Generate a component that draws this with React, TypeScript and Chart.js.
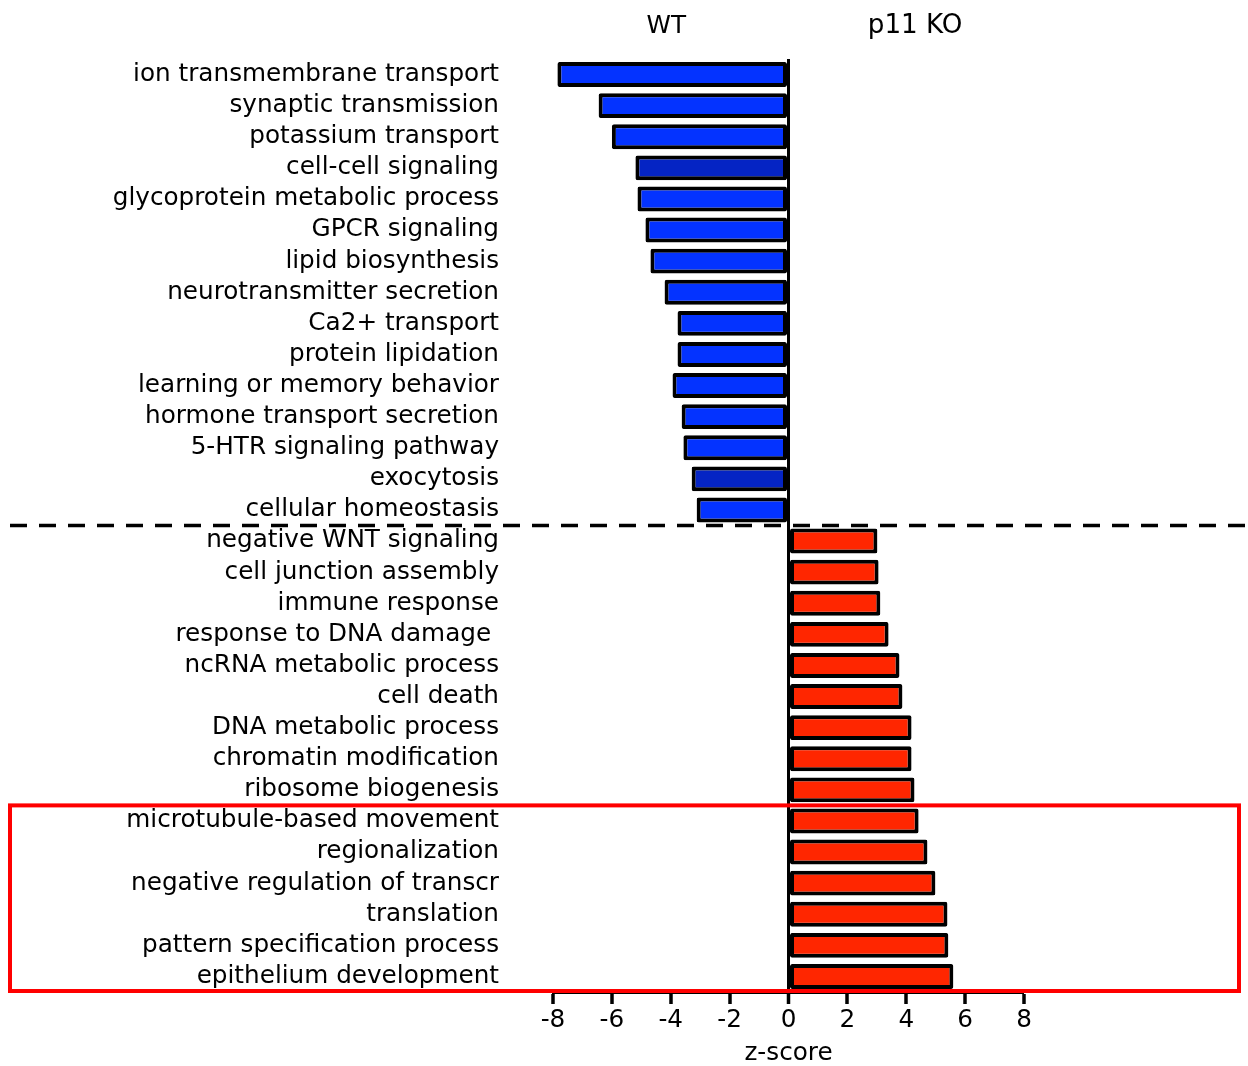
import React, { useEffect, useRef } from "react";
import { Chart, registerables } from "chart.js";

Chart.register(...registerables);

const categories = [
  "ion transmembrane transport",
  "synaptic transmission",
  "potassium transport",
  "cell-cell signaling",
  "glycoprotein metabolic process",
  "GPCR signaling",
  "lipid biosynthesis",
  "neurotransmitter secretion",
  "Ca2+ transport",
  "protein lipidation",
  "learning or memory behavior",
  "hormone transport secretion",
  "5-HTR signaling pathway",
  "exocytosis",
  "cellular homeostasis",
  "negative WNT signaling",
  "cell junction assembly",
  "immune response",
  "response to DNA damage ",
  "ncRNA metabolic process",
  "cell death",
  "DNA metabolic process",
  "chromatin modification",
  "ribosome biogenesis",
  "microtubule-based movement",
  "regionalization",
  "negative regulation of transcr",
  "translation",
  "pattern specification process",
  "epithelium development",
];

const zScores = [
  -7.85, -6.45, -6.0, -5.2, -5.13, -4.86, -4.69, -4.21, -3.77, -3.77,
  -3.94, -3.63, -3.57, -3.29, -3.12,
  3.02, 3.06, 3.12, 3.4, 3.77, 3.87, 4.18, 4.18, 4.28, 4.42,
  4.72, 4.99, 5.4, 5.43, 5.6,
];

const darkCategories = ["cell-cell signaling", "exocytosis"];
const highlightedCategories = [
  "microtubule-based movement",
  "regionalization",
  "negative regulation of transcr",
  "translation",
  "pattern specification process",
  "epithelium development",
];
const groupLabels = ["WT", "p11 KO"];
const groupCenters = [-4.15, 4.3];
const xMin = -8;
const xMax = 8;
const xStep = 2;
const axisTitle = "z-score";

const FONT = "'DejaVu Sans', Verdana, sans-serif";
const FS = 24.7;

const annotations = {
  id: "annotations",
  afterDraw(chart: any) {
    const { ctx, scales } = chart;
    const x = scales.x;
    const y = scales.y;
    ctx.save();
    ctx.fillStyle = "#000";
    ctx.textAlign = "center";
    ctx.textBaseline = "alphabetic";
    groupLabels.forEach((g, i) => {
      ctx.font = `${FS + (i === 1 ? 1.5 : 0)}px ${FONT}`;
      ctx.fillText(g, x.getPixelForValue(groupCenters[i]), 33);
    });
    const firstPos = zScores.findIndex((v) => v > 0);
    const sepY = (y.getPixelForValue(firstPos - 1) + y.getPixelForValue(firstPos)) / 2;
    ctx.strokeStyle = "#000";
    ctx.lineWidth = 3.5;
    ctx.setLineDash([17, 12]);
    ctx.beginPath();
    ctx.moveTo(10, sepY);
    ctx.lineTo(1248, sepY);
    ctx.stroke();
    ctx.setLineDash([]);
    const i0 = categories.indexOf(highlightedCategories[0]);
    const top = (y.getPixelForValue(i0 - 1) + y.getPixelForValue(i0)) / 2;
    const bottom = chart.chartArea.bottom - 1;
    ctx.strokeStyle = "#FF0000";
    ctx.lineWidth = 4;
    ctx.strokeRect(10, top, 1229, bottom - top);
    ctx.restore();
  },
};

export default function App() {
  const ref = useRef<HTMLCanvasElement>(null);
  useEffect(() => {
    if (!ref.current) return;
    const colors = categories.map((c, i) =>
      zScores[i] < 0 ? (darkCategories.includes(c) ? "#0524C4" : "#0433FF") : "#FF2600"
    );
    const chart = new Chart(ref.current, {
      type: "bar",
      data: {
        labels: categories,
        datasets: [
          {
            data: zScores,
            backgroundColor: colors,
            borderColor: "#000",
            borderWidth: 4,
            borderSkipped: false,
            borderRadius: 2,
            barPercentage: 0.8,
            categoryPercentage: 1,
          },
        ],
      },
      plugins: [annotations],
      options: {
        indexAxis: "y",
        animation: false,
        responsive: false,
        layout: { padding: { top: 59, right: 224, left: 0, bottom: 0 } },
        plugins: { legend: { display: false }, tooltip: { enabled: false } },
        scales: {
          x: {
            min: xMin,
            max: xMax,
            afterFit: (s: any) => {
              s.height = 74;
            },
            ticks: {
              stepSize: xStep,
              color: "#000",
              padding: 2,
              font: { family: FONT, size: FS },
            },
            grid: {
              drawOnChartArea: true,
              color: (c: any) => (c.tick && c.tick.value === 0 ? "#000" : "rgba(0,0,0,0)"),
              lineWidth: (c: any) => (c.tick && c.tick.value === 0 ? 3 : 0),
              drawTicks: true,
              tickLength: 12,
              tickColor: "#000",
              tickWidth: 3.5,
            },
            border: { display: true, color: "#000", width: 3 },
            title: {
              display: true,
              text: axisTitle,
              color: "#000",
              font: { family: FONT, size: FS },
              padding: { top: 0, bottom: -2 },
            },
          },
          y: {
            afterFit: (s: any) => {
              s.width = 553;
            },
            ticks: {
              color: "#000",
              padding: 0,
              autoSkip: false,
              font: { family: FONT, size: FS },
            },
            grid: {
              display: true,
              drawOnChartArea: false,
              drawTicks: true,
              tickLength: 54,
              tickColor: "rgba(0,0,0,0)",
              color: "rgba(0,0,0,0)",
            },
            border: { display: false },
          },
        },
      },
    });
    return () => chart.destroy();
  }, []);
  return (
    <div style={{ position: "absolute", left: 0, top: 0, width: 1248, height: 1066, background: "#fff" }}>
      <canvas ref={ref} width={1248} height={1066} />
    </div>
  );
}
